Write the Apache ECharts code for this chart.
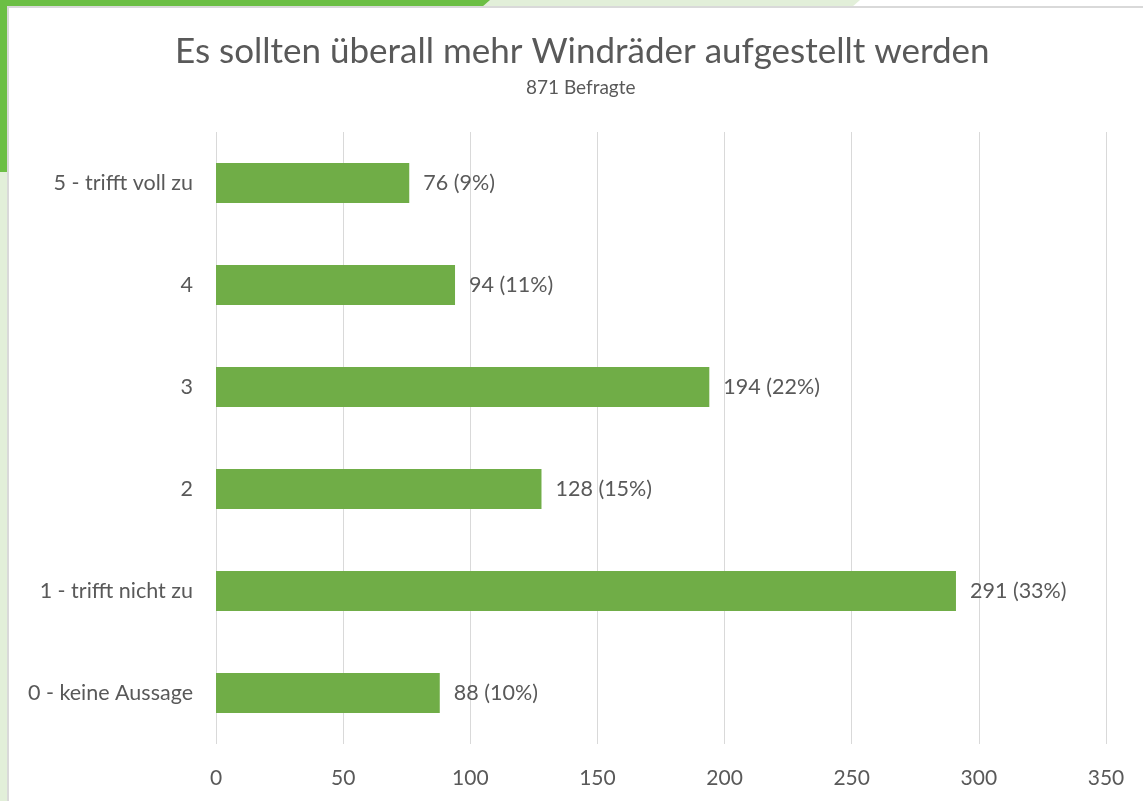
<!DOCTYPE html>
<html>
<head>
<meta charset="utf-8">
<script src="https://cdn.jsdelivr.net/npm/echarts@6/dist/echarts.min.js"></script>
<style>
  html, body { margin: 0; padding: 0; background: #fff; }
  #chart { width: 1143px; height: 801px; }
</style>
</head>
<body>
<div id="chart"></div>
<script>
// Umfrage: Windräder — Antworten von oben nach unten wie im Bild
const categories = ["5 - trifft voll zu", "4", "3", "2", "1 - trifft nicht zu", "0 - keine Aussage"]
const counts = [76, 94, 194, 128, 291, 88]
const percents = [9, 11, 22, 15, 33, 10]
const xTicks = [0, 50, 100, 150, 200, 250, 300, 350]

const TEXT = "#595959"
const GREEN = "#70ad47"
const FONT = "Lato, 'Open Sans', sans-serif"

const chart = echarts.init(document.getElementById("chart"), null, { renderer: "canvas" })

chart.setOption({
  backgroundColor: "#ffffff",
  animation: false,
  textStyle: { fontFamily: FONT },
  // title block sits a bit right of the page centre in the original, so place it by hand
  title: [
    {
      text: "Es sollten überall mehr Windräder aufgestellt werden",
      left: 170,
      top: 29,
      textStyle: { color: TEXT, fontSize: 35, fontWeight: "normal", fontFamily: FONT }
    },
    {
      text: "871 Befragte",
      left: 521,
      top: 73,
      textStyle: { color: TEXT, fontSize: 19, fontWeight: "normal", fontFamily: FONT }
    }
  ],
  // page frame: green strips top/left like the slide background
  graphic: [
    { type: "polygon", silent: true, shape: { points: [[0, 0], [860, 0], [852, 7], [0, 7]] }, style: { fill: "#e2efd9" } },
    { type: "polygon", silent: true, shape: { points: [[0, 0], [490, 0], [482, 7], [0, 7]] }, style: { fill: "#6cbf45" } },
    { type: "rect", silent: true, shape: { x: 0, y: 0, width: 7, height: 801 }, style: { fill: "#e2efd9" } },
    { type: "rect", silent: true, shape: { x: 0, y: 0, width: 7, height: 172 }, style: { fill: "#6cbf45" } },
    { type: "rect", silent: true, shape: { x: 7, y: 6, width: 1136, height: 2 }, style: { fill: "#d9d9d9" } },
    { type: "rect", silent: true, shape: { x: 7, y: 6, width: 2, height: 795 }, style: { fill: "#d9d9d9" } }
  ],
  grid: { left: 216, right: 37, top: 132, bottom: 57, containLabel: false },
  xAxis: {
    type: "value",
    min: xTicks[0],
    max: xTicks[xTicks.length - 1],
    interval: 50,
    axisLine: { show: false },
    axisTick: { show: false },
    axisLabel: { color: TEXT, fontSize: 21, margin: 24, fontFamily: FONT },
    splitLine: { show: true, lineStyle: { color: "#d9d9d9", width: 1 } }
  },
  yAxis: {
    type: "category",
    data: categories,
    inverse: true,
    axisLine: { show: false },
    axisTick: { show: false },
    axisLabel: { color: TEXT, fontSize: 21.5, margin: 23, fontFamily: FONT }
  },
  series: [{
    type: "bar",
    data: counts,
    barWidth: 40,
    itemStyle: { color: GREEN },
    label: {
      show: true,
      position: "right",
      distance: 14,
      color: TEXT,
      fontSize: 21.5,
      fontFamily: FONT,
      formatter: (p) => `${p.value} (${percents[p.dataIndex]}%)`
    }
  }]
})
</script>
</body>
</html>
